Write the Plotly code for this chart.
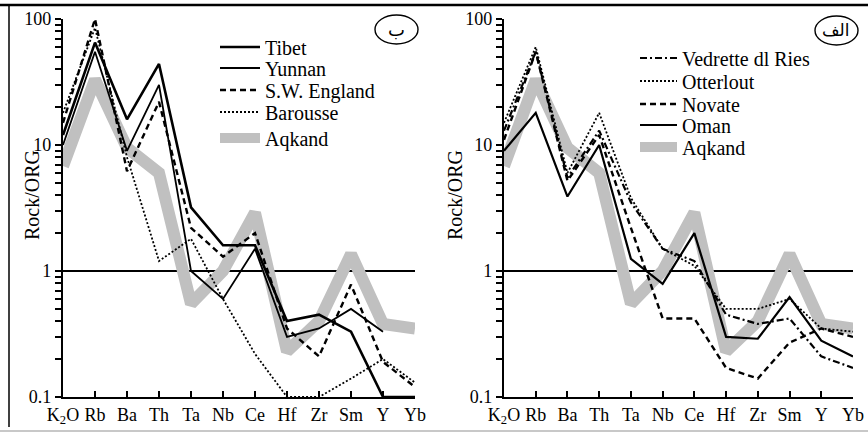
import plotly.graph_objects as go

categories = ["K2O", "Rb", "Ba", "Th", "Ta", "Nb", "Ce", "Hf", "Zr", "Sm", "Y", "Yb"]
tick_labels = ["K<sub>2</sub>O", "Rb", "Ba", "Th", "Ta", "Nb", "Ce", "Hf", "Zr", "Sm", "Y", "Yb"]

# log-axis ticks (labels only at decades)
y_tick_vals = [0.1, 0.2, 0.3, 0.4, 0.5, 0.6, 0.7, 0.8, 0.9,
               1, 2, 3, 4, 5, 6, 7, 8, 9,
               10, 20, 30, 40, 50, 60, 70, 80, 90, 100]
y_tick_text = ["0.1", "", "", "", "", "", "", "", "",
               "1", "", "", "", "", "", "", "", "",
               "10", "", "", "", "", "", "", "", "", "100"]

# Aqkand (shown in both panels)
aqkand = [6.8, 33, 9.5, 6.0, 0.55, 1.0, 2.9, 0.23, 0.4, 1.36, 0.38, 0.35]

# Left panel (ب)
tibet = [12, 65, 16, 44, 3.2, 1.6, 1.6, 0.4, 0.45, 0.33, 0.1, 0.1]
yunnan = [10, 55, 9, 30, 1.0, 0.6, 1.5, 0.3, 0.35, 0.5, 0.33, None]
sw_england = [15, 100, 6.2, 22, 2.2, 1.3, 2.0, 0.35, 0.21, 0.78, 0.19, 0.12]
barousse = [18, 85, 8, 1.2, 1.8, 0.6, 0.22, 0.1, 0.1, 0.14, 0.2, 0.13]

# Right panel (الف)
vedrette = [13, 55, 5.5, 13, 3.5, 1.5, 1.2, 0.45, 0.38, 0.42, 0.21, 0.17]
otterlout = [15, 60, 6, 18, 3.8, 1.5, 1.1, 0.5, 0.5, 0.6, 0.35, 0.33]
novate = [11, 55, 5.2, 12, 2.2, 0.42, 0.42, 0.17, 0.14, 0.27, 0.35, 0.3]
oman = [9, 18, 3.9, 10, 1.25, 0.79, 2.0, 0.3, 0.29, 0.62, 0.28, 0.21]

serif = "Times New Roman"
GRAY = "rgb(192,192,192)"

W, H = 868, 435
L, R, T, B = 63, 15, 19, 38
pw, ph = W - L - R, H - T - B

def px(xp):
    return (xp - L) / pw

def py(yp):
    return (H - B - yp) / ph

fig = go.Figure()
legend_layouts = {}
LEG_FONT = 20

def add(y, name, dash, width, xa, ya, leg_id, leg_x, leg_y, itemwidth, color="black"):
    fig.add_trace(go.Scatter(
        x=categories, y=y, name=name, mode="lines", xaxis=xa, yaxis=ya, legend=leg_id,
        line=dict(color=color, dash=dash, width=width), connectgaps=False,
    ))
    legend_layouts[leg_id] = dict(
        x=px(leg_x), y=py(leg_y), xanchor="left", yanchor="middle",
        bgcolor="rgba(0,0,0,0)", font=dict(family=serif, size=LEG_FONT, color="black"),
        itemwidth=itemwidth,
    )

# left panel (Aqkand drawn first so it sits under the black lines)
add(aqkand, "Aqkand", "solid", 12, "x", "y", "legend5", 215, 138, 40, GRAY)
add(tibet, "Tibet", "solid", 2.6, "x", "y", "legend", 215, 47, 40)
add(yunnan, "Yunnan", "solid", 1.8, "x", "y", "legend2", 215, 68, 40)
add(sw_england, "S.W. England", "6px,4px", 2.4, "x", "y", "legend3", 215, 90, 40)
add(barousse, "Barousse", "2px,2px", 1.8, "x", "y", "legend4", 215, 112, 40)

# right panel
add(aqkand, "Aqkand", "solid", 12, "x2", "y2", "legend10", 635, 147, 37, GRAY)
add(vedrette, "Vedrette dl Ries", "7px,3px,2px,3px", 2.2, "x2", "y2", "legend6", 635, 58, 37)
add(otterlout, "Otterlout", "2px,2px", 1.8, "x2", "y2", "legend7", 635, 81, 37)
add(novate, "Novate", "6px,4px", 2.4, "x2", "y2", "legend8", 635, 104, 37)
add(oman, "Oman", "solid", 2.2, "x2", "y2", "legend9", 635, 125, 37)

xcommon = dict(
    type="category", categoryorder="array", categoryarray=categories,
    range=[0, 11], tickvals=categories, ticktext=tick_labels,
    showline=True, linecolor="black", linewidth=2.2, automargin=False,
    ticks="inside", ticklen=6, tickwidth=2, tickcolor="black",
    showgrid=False, zeroline=False,
    tickfont=dict(family=serif, size=18, color="black"),
)
ycommon = dict(
    type="log", range=[-1, 2], tickmode="array", tickvals=y_tick_vals, ticktext=y_tick_text,
    automargin=False,
    showline=True, linecolor="black", linewidth=2.2,
    ticks="outside", ticklen=6, tickwidth=1.8, tickcolor="black",
    showgrid=False, zeroline=False,
    tickfont=dict(family=serif, size=18, color="black"),
)

xd1 = [0, px(415)]
xd2 = [px(504), 1]

fig.update_layout(
    width=W, height=H,
    font=dict(family=serif, color="black"),
    margin=dict(l=L, r=R, t=T, b=B, autoexpand=False),
    paper_bgcolor="white", plot_bgcolor="white",
    showlegend=True,
    xaxis=dict(domain=xd1, anchor="y", **xcommon),
    yaxis=dict(domain=[0, 1], anchor="x", **ycommon),
    xaxis2=dict(domain=xd2, anchor="y2", **xcommon),
    yaxis2=dict(domain=[0, 1], anchor="x2", **ycommon),
    **legend_layouts,
)

shapes = [
    dict(type="line", xref="x", yref="y", x0=0, x1=11, y0=1, y1=1,
         line=dict(color="black", width=1.8), layer="below"),
    dict(type="line", xref="x2", yref="y2", x0=0, x1=11, y0=1, y1=1,
         line=dict(color="black", width=1.8), layer="below"),
    dict(type="circle", xref="paper", yref="paper", x0=px(375), x1=px(418), y0=py(44), y1=py(15),
         line=dict(color="black", width=1.4)),
    dict(type="circle", xref="paper", yref="paper", x0=px(815), x1=px(858), y0=py(45), y1=py(16),
         line=dict(color="black", width=1.4)),
    dict(type="line", xref="paper", yref="paper", x0=px(0), x1=px(868), y0=py(5), y1=py(5),
         line=dict(color="black", width=2.5)),
    dict(type="line", xref="paper", yref="paper", x0=px(9), x1=px(9), y0=py(5), y1=py(427),
         line=dict(color="black", width=1.5)),
    dict(type="line", xref="paper", yref="paper", x0=px(0), x1=px(868), y0=py(431), y1=py(431),
         line=dict(color="rgb(200,200,200)", width=2)),
]
fig.update_layout(shapes=shapes)

annotations = [
    dict(text="ب", x=px(396), y=py(29), xref="paper", yref="paper", showarrow=False,
         xanchor="center", yanchor="middle",
         font=dict(family="DejaVu Sans", size=18, color="black")),
    dict(text="الف", x=px(836), y=py(30), xref="paper", yref="paper", showarrow=False,
         xanchor="center", yanchor="middle",
         font=dict(family="DejaVu Sans", size=17, color="black")),
    dict(text="Rock/ORG", textangle=-90, x=px(19), y=py(195), xref="paper", yref="paper",
         showarrow=False, font=dict(family=serif, size=20, color="black")),
    dict(text="Rock/ORG", textangle=-90, x=px(455), y=py(195), xref="paper", yref="paper",
         showarrow=False, font=dict(family=serif, size=20, color="black")),
]
fig.update_layout(annotations=annotations)

fig.write_html(
    "out.html",
    config={"displayModeBar": False},
    post_script="document.body.style.margin='0';document.body.style.padding='0';document.body.style.overflow='hidden';",
)
